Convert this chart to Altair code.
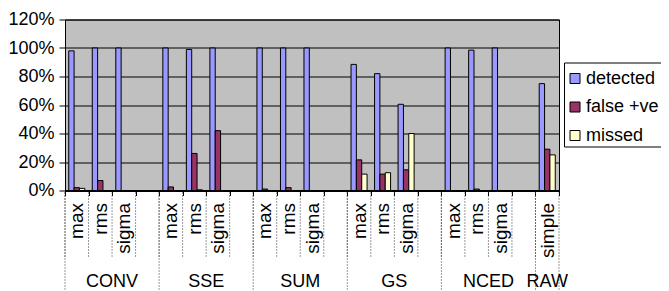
import altair as alt
import pandas as pd

# ---------------- data ----------------
groups = ["CONV", "SSE", "SUM", "GS", "NCED", "RAW"]
group_methods = [
    ["max", "rms", "sigma"],
    ["max", "rms", "sigma"],
    ["max", "rms", "sigma"],
    ["max", "rms", "sigma"],
    ["max", "rms", "sigma"],
    ["simple"],
]
series = ["detected", "false +ve", "missed"]
colors = ["#9999FF", "#993366", "#FFFFCC"]

detected = [98, 100, 100, 100, 99, 100, 100, 100, 100, 88.5, 82, 60.5, 100, 98.5, 100, 75]
false_pos = [2, 7, 0, 2.5, 26, 42, 1, 2, 0, 21.5, 11.5, 14.5, 0, 1, 0, 29]
missed = [1.5, 0, 0, 0, 0.5, 0, 0, 0, 0, 11.5, 12.5, 40, 0, 0, 0, 25]

y_ticks = [0, 20, 40, 60, 80, 100, 120]

# ---------------- tables built from the arrays ----------------
slots = []
for g, ms in zip(groups, group_methods):
    for m in ms:
        slots.append(f"{g}|{m}")
    if g != groups[-1]:
        slots.append(f"{g}|")  # empty spacer category

pairs = [(g, m) for g, ms in zip(groups, group_methods) for m in ms]
rows = []
for i, (g, m) in enumerate(pairs):
    for s, vals in zip(series, [detected, false_pos, missed]):
        if vals[i] > 0:
            rows.append({"slot": f"{g}|{m}", "series": s, "value": vals[i]})
bars_df = pd.DataFrame(rows)

slots_df = pd.DataFrame({"slot": slots})
group_start_df = pd.DataFrame({"slot": [f"{g}|{ms[0]}" for g, ms in zip(groups, group_methods)]})
group_end_df = pd.DataFrame({"slot": [slots[-1]]})
label4_df = pd.DataFrame({"slot": [f"{g}|{ms[1]}" for g, ms in zip(groups, group_methods) if len(ms) == 3],
                          "group": [g for g, ms in zip(groups, group_methods) if len(ms) == 3]})
label1_df = pd.DataFrame({"slot": [f"{g}|{ms[0]}" for g, ms in zip(groups, group_methods) if len(ms) == 1],
                          "group": [g for g, ms in zip(groups, group_methods) if len(ms) == 1]})

W, H = 494, 171
FONT = "Liberation Sans"
xscale = alt.Scale(domain=slots, paddingInner=0, paddingOuter=0)


def x_axis():
    return alt.Axis(title=None, labelExpr="split(datum.value, '|')[1]",
                    labelAngle=270, labelAlign="right", labelBaseline="middle",
                    labelFontSize=19, labelPadding=7, tickBand="extent",
                    tickSize=5, tickColor="black", domainColor="black",
                    domainWidth=2, labelColor="black", grid=False,
                    labelOverlap=False, labelFont=FONT)


bars = alt.Chart(bars_df).mark_bar(stroke="black", strokeWidth=1).encode(
    x=alt.X("slot:N", scale=xscale, sort=slots, axis=x_axis()),
    xOffset=alt.XOffset("series:N", scale=alt.Scale(domain=series, paddingInner=0, paddingOuter=0.7)),
    y=alt.Y("value:Q", scale=alt.Scale(domain=[0, 120], nice=False),
            axis=alt.Axis(title=None, values=y_ticks, labelExpr="datum.value + '%'",
                          labelFontSize=18, tickSize=6, labelPadding=5,
                          tickColor="black", domainColor="black", labelColor="black",
                          grid=True, gridColor="black", gridWidth=1, gridOpacity=1)),
    color=alt.Color("series:N", scale=alt.Scale(domain=series, range=colors),
                    legend=alt.Legend(title=" ", titleFontSize=2, titlePadding=3,
                                      orient="none", legendX=499, legendY=43,
                                      fillColor="white", strokeColor="black", padding=2,
                                      symbolType="square", symbolSize=100,
                                      symbolStrokeColor="black", symbolStrokeWidth=1,
                                      labelFontSize=18, labelFont=FONT, labelColor="black",
                                      rowPadding=10.5, labelOffset=2)),
)

short_rules = alt.Chart(slots_df).mark_rule(color="#333333", strokeDash=[1, 2], strokeWidth=1).encode(
    x=alt.X("slot:N", scale=xscale, sort=slots, bandPosition=0, axis=x_axis()),
    y=alt.value(H + 2), y2=alt.value(H + 66),
)

long_rules = alt.Chart(group_start_df).mark_rule(color="#333333", strokeDash=[1, 2], strokeWidth=1).encode(
    x=alt.X("slot:N", scale=xscale, sort=slots, bandPosition=0, axis=x_axis()),
    y=alt.value(H + 2), y2=alt.value(H + 120),
)
end_rule = alt.Chart(group_end_df).mark_rule(color="#333333", strokeDash=[1, 2], strokeWidth=1).encode(
    x=alt.X("slot:N", scale=xscale, sort=slots, bandPosition=1, axis=x_axis()),
    y=alt.value(H + 2), y2=alt.value(H + 120),
)

text4 = alt.Chart(label4_df).mark_text(font=FONT, fontSize=18, color="black", baseline="middle").encode(
    x=alt.X("slot:N", scale=xscale, sort=slots, bandPosition=1, axis=x_axis()),
    y=alt.value(H + 91),
    text="group:N",
)
text1 = alt.Chart(label1_df).mark_text(font=FONT, fontSize=18, color="black", baseline="middle").encode(
    x=alt.X("slot:N", scale=xscale, sort=slots, bandPosition=0.5, axis=x_axis()),
    y=alt.value(H + 91),
    text="group:N",
)

chart = alt.layer(bars, short_rules, long_rules, end_rule, text4, text1).properties(
    width=W, height=H,
    autosize=alt.AutoSizeParams(type="none"),
    padding={"left": 57, "top": 11.5, "right": 102, "bottom": 100.5},
).configure_view(
    fill="#C0C0C0", stroke="black", strokeWidth=1
).configure_axis(
    labelFont=FONT
)

chart.save("out.html", embed_options={"renderer": "svg", "actions": False})
